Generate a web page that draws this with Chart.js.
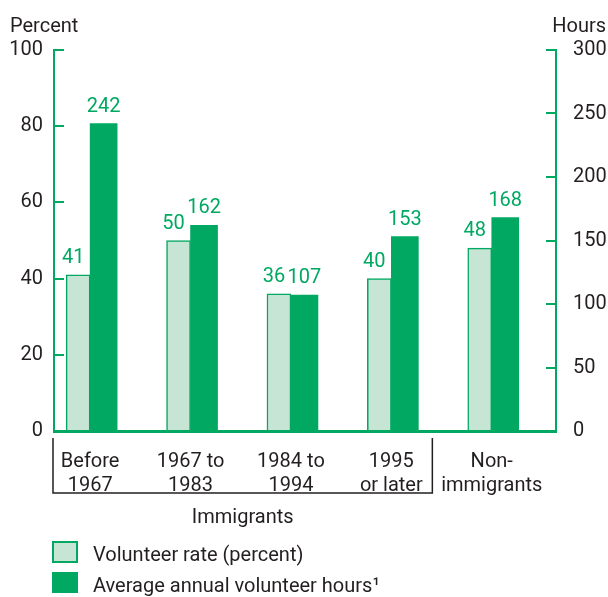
<!DOCTYPE html>
<html>
<head>
<meta charset="utf-8">
<script src="https://cdn.jsdelivr.net/npm/chart.js@4.4.1/dist/chart.umd.min.js"></script>
<style>
  html, body { margin: 0; padding: 0; background: #fff; }
  #wrap { width: 608px; height: 597px; position: relative; }
</style>
</head>
<body>
<div id="wrap"><canvas id="myChart"></canvas></div>
<script>
// data
const groups = [["Before", "1967"], ["1967 to", "1983"], ["1984 to", "1994"], ["1995", "or later"], ["Non-", "immigrants"]];
const volunteerRate = [41, 50, 36, 40, 48];   // percent, left axis
const annualHours = [242, 162, 107, 153, 168]; // hours, right axis
const percentTicks = [0, 20, 40, 60, 80, 100];
const hourTicks = [0, 50, 100, 150, 200, 250, 300];
const seriesNames = ["Volunteer rate (percent)", "Average annual volunteer hours\u00b9"];

const green = "#00a862";
const lightGreen = "#c6e5d4";
const ink = "#231f20";
const font = "Roboto, 'Liberation Sans', sans-serif";

let ctx = document.getElementById("myChart");

// labels, titles, bracket and legend
const extras = {
  id: "extras",
  afterDatasetsDraw(chart) {
    const c = chart.ctx;
    const area = chart.chartArea;
    c.save();
    c.font = "20px " + font;
    c.textBaseline = "alphabetic";

    // values above bars
    c.fillStyle = green;
    c.textAlign = "center";
    chart.getDatasetMeta(0).data.forEach((bar, i) => {
      c.fillText(String(volunteerRate[i]), bar.x - 5, bar.y - 12);
    });
    chart.getDatasetMeta(1).data.forEach((bar, i) => {
      c.fillText(String(annualHours[i]), bar.x, bar.y - 12);
    });

    // axis titles
    c.fillStyle = ink;
    c.textAlign = "left";
    c.fillText("Percent", 10, 32);
    c.textAlign = "right";
    c.fillText("Hours", 606, 32);

    // immigrants bracket
    const xs = chart.scales.x;
    const bl = area.left - 1;
    const br = xs.getPixelForValue(3) + 41;
    c.strokeStyle = ink;
    c.lineWidth = 1.5;
    c.beginPath();
    c.moveTo(bl, area.bottom + 7);
    c.lineTo(bl, area.bottom + 62);
    c.lineTo(br, area.bottom + 62);
    c.lineTo(br, area.bottom + 7);
    c.stroke();
    c.textAlign = "center";
    c.fillText("Immigrants", (bl + br) / 2, area.bottom + 92);

    // legend
    c.textAlign = "left";
    c.fillStyle = lightGreen;
    c.fillRect(53, 542, 24, 20);
    c.strokeStyle = green;
    c.lineWidth = 2;
    c.strokeRect(53, 542, 24, 20);
    c.fillStyle = green;
    c.fillRect(52, 572, 26, 21);
    c.fillStyle = ink;
    c.fillText(seriesNames[0], 93, 561);
    c.fillText(seriesNames[1], 93, 592);
    c.restore();
  }
};

function makeChart() {
  new Chart(ctx, {
    type: "bar",
    data: {
      datasets: [
        {
          label: seriesNames[0],
          data: volunteerRate.map((v, i) => ({ x: i, y: v })),
          yAxisID: "y",
          backgroundColor: lightGreen,
          borderColor: green,
          borderWidth: 1.5,
          borderSkipped: "bottom",
          barThickness: 24
        },
        {
          label: seriesNames[1],
          data: annualHours.map((v, i) => ({ x: i, y: v })),
          yAxisID: "y2",
          backgroundColor: green,
          borderWidth: 0,
          barThickness: 27
        }
      ]
    },
    options: {
      maintainAspectRatio: false,
      responsive: true,
      animation: false,
      layout: { padding: { top: 50, left: 0, right: 0, bottom: 0 } },
      plugins: {
        legend: { display: false },
        tooltip: { enabled: false }
      },
      scales: {
        x: {
          type: "linear",
          offset: false,
          min: -0.36,
          max: groups.length - 0.36,
          afterBuildTicks: (scale) => { scale.ticks = groups.map((g, i) => ({ value: i })); },
          afterFit: (scale) => { scale.height = 166; },
          grid: { display: false },
          border: { color: green, width: 3 },
          ticks: {
            autoSkip: false,
            maxRotation: 0,
            padding: 11,
            color: ink,
            font: { family: font, size: 20, lineHeight: 1.2 },
            callback: (v) => groups[v]
          }
        },
        y: {
          position: "left",
          min: percentTicks[0],
          max: percentTicks[percentTicks.length - 1],
          afterFit: (scale) => { scale.width = 54; },
          grid: { drawOnChartArea: false, color: green, lineWidth: 2, tickLength: -10 },
          border: { color: green, width: 2 },
          ticks: {
            stepSize: percentTicks[1] - percentTicks[0],
            padding: 21,
            color: ink,
            font: { family: font, size: 20 }
          }
        },
        y2: {
          position: "right",
          min: hourTicks[0],
          max: hourTicks[hourTicks.length - 1],
          afterFit: (scale) => { scale.width = 52; },
          grid: { drawOnChartArea: false, color: green, lineWidth: 2, tickLength: -10 },
          border: { color: green, width: 2 },
          ticks: {
            stepSize: hourTicks[1] - hourTicks[0],
            padding: 27,
            color: ink,
            font: { family: font, size: 20 }
          }
        }
      }
    },
    plugins: [extras]
  });
}

document.fonts.load("20px Roboto").then(makeChart, makeChart);
</script>
</body>
</html>
